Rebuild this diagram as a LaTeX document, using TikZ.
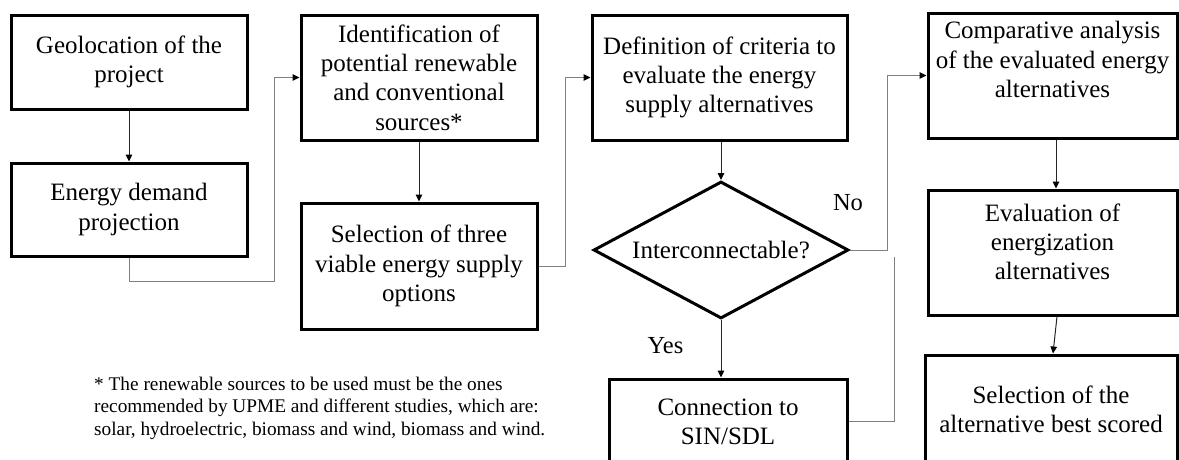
\documentclass[tikz,border=0pt]{standalone}
\usepackage{fontspec}
\setmainfont{Liberation Serif}
\usetikzlibrary{shapes.geometric,arrows.meta}
\newcommand\flowfont{\fontsize{25}{29.3}\selectfont}
\newcommand\notefont{\fontsize{19.3}{22.6}\selectfont}
\begin{document}
\begin{tikzpicture}[x=1pt,y=-1pt,
  box/.style={draw,line width=3pt,rectangle,inner sep=0pt,align=center,font=\flowfont},
  plain/.style={inner sep=0pt,align=center,font=\flowfont},
  decision/.style={draw,line width=3pt,diamond,inner sep=0pt,aspect=1.86,font=\flowfont},
  link/.style={line width=1pt,draw=black!85,-{Triangle[length=7pt,width=6.5pt,color=black]}},
  elbow/.style={line width=1pt,draw=black!50,-{Triangle[length=7pt,width=6.5pt,color=black]}},
  elbowplain/.style={line width=1pt,draw=black!50},
  tag/.style={inner sep=0pt,font=\fontsize{24.5}{29}\selectfont}]
\useasboundingbox (0,0) rectangle (1179,459);
\clip (0,0) rectangle (1179,459);

% process boxes
\node[box,minimum width=236,minimum height=94] (geo) at (129,62) {Geolocation of the\\project};
\node[box,minimum width=236,minimum height=93] (dem) at (129,209.5) {Energy demand\\projection};
\node[box,minimum width=236,minimum height=125] (ident) at (419,77.5) {Identification of\\potential renewable\\and conventional\\sources*};
\node[box,minimum width=236,minimum height=126] (sel3) at (419,266) {Selection of three\\viable energy supply\\options};
\node[box,minimum width=255,minimum height=125] (crit) at (719.5,77.5) {Definition of criteria to\\evaluate the energy\\supply alternatives};
\node[decision,minimum width=255,minimum height=137] (dia) at (721,250) {Interconnectable?};

% boxes running past the lower edge, with their texts set apart
\node[box,minimum width=238,minimum height=110] (conn) at (728,434) {};
\node[plain] (conntxt) at (728,422) {Connection to\\SIN/SDL};
\node[box,minimum width=249,minimum height=125] (comp) at (1052.5,75.5) {};
\node[plain] (comptxt) at (1052.5,59.5) {Comparative analysis\\of the evaluated energy\\alternatives};
\node[box,minimum width=249,minimum height=125] (eval) at (1052.5,252.5) {};
\node[plain] (evaltxt) at (1052.5,242) {Evaluation of\\energization\\alternatives};
\node[box,minimum width=252,minimum height=135] (best) at (1051,422.5) {};
\node[plain] (besttxt) at (1051,409) {Selection of the\\alternative best scored};

% branch labels
\node[tag,anchor=base] (no) at (848,210) {No};
\node[tag,anchor=base] (yes) at (665.5,353) {Yes};

% footnote
\node[inner sep=0pt,align=left,anchor=west,font=\notefont] (note) at (94,408)
  {* The renewable sources to be used must be the ones\\recommended by UPME and different studies, which are:\\solar, hydroelectric, biomass and wind, biomass and wind.};

% bend points
\coordinate (k1) at (274,281);
\coordinate (k2) at (565,266);
\coordinate (k3) at (887,250);
\coordinate (k4) at (894,421);
\coordinate (k5) at (894,257);

% connectors
\draw[link] (geo.south) -- (dem.north);
\draw[elbow] (dem.south) |- (k1) |- (ident.west);
\draw[link] (ident.south) -- (sel3.north);
\draw[elbow] (sel3.east) -- (k2) |- (crit.west);
\draw[link] (dia.north |- crit.south) -- (dia.north);
\draw[elbow] (dia.east) -- (k3) |- (comp.west);
\draw[link] (dia.south) -- (dia.south |- conn.north);
\draw[elbowplain] (k4 -| conn.east) -- (k4) -- (k5);
\draw[link] ([xshift=3.5pt]comp.south) -- ([xshift=3.5pt]eval.north);
\draw[link] ([xshift=4.5pt]eval.south) -- ([xshift=2pt]best.north);
\end{tikzpicture}
\end{document}
